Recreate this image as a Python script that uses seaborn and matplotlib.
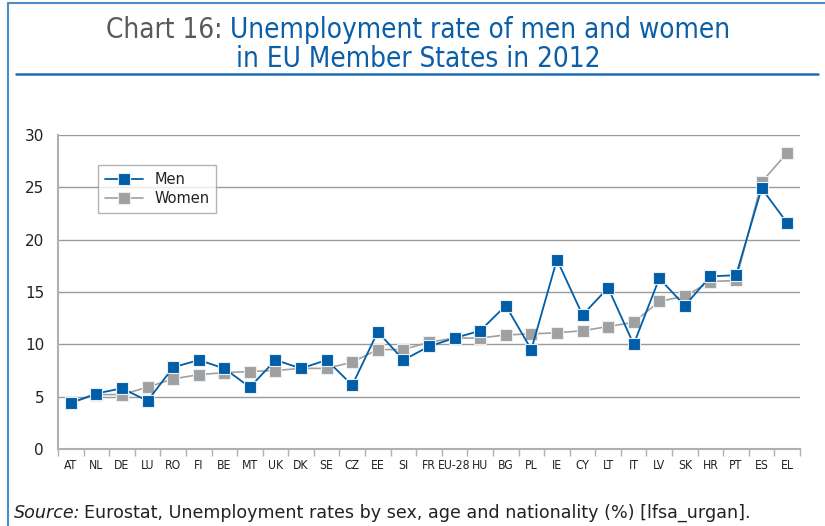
import matplotlib
matplotlib.use("Agg")
import matplotlib.pyplot as plt
from matplotlib.lines import Line2D
import seaborn as sns
import pandas as pd

countries = ["AT", "NL", "DE", "LU", "RO", "FI", "BE", "MT", "UK", "DK", "SE", "CZ", "EE", "SI",
             "FR", "EU-28", "HU", "BG", "PL", "IE", "CY", "LT", "IT", "LV", "SK", "HR", "PT", "ES", "EL"]
men = [4.4, 5.3, 5.8, 4.6, 7.8, 8.5, 7.7, 5.9, 8.5, 7.7, 8.5, 6.1, 11.2, 8.5,
       9.8, 10.6, 11.3, 13.7, 9.5, 18.1, 12.8, 15.4, 10.0, 16.3, 13.7, 16.5, 16.6, 24.9, 21.6]
women = [4.4, 5.2, 5.2, 5.9, 6.7, 7.1, 7.3, 7.4, 7.5, 7.7, 7.7, 8.3, 9.5, 9.5,
         10.2, 10.6, 10.6, 10.9, 11.0, 11.1, 11.3, 11.7, 12.1, 14.1, 14.6, 16.0, 16.1, 25.5, 28.3]
yticks = [0, 5, 10, 15, 20, 25, 30]

BLUE = "#005ea8"
GREY = "#a0a0a0"
TITLE_BLUE = "#0b5ea8"

sns.set_theme(style="white")
plt.rcParams['font.family'] = ['DejaVu Sans']

df_m = pd.DataFrame({"country": countries, "rate": men})
df_w = pd.DataFrame({"country": countries, "rate": women})

fig = plt.figure(figsize=(8.25, 5.26), dpi=100)
ax = fig.add_axes([58/825, 1-449/526, 742/825, 314/526])

MS = 8.3
kw = dict(marker="s", markersize=MS, markeredgecolor="#e8eef5", markeredgewidth=0.8)
sns.lineplot(data=df_w, x="country", y="rate", ax=ax, color=GREY, linewidth=1.2, sort=False, **kw)
sns.lineplot(data=df_m, x="country", y="rate", ax=ax, color=BLUE, linewidth=1.3, sort=False, **kw)

ax.set_xlim(-0.5, len(countries) - 0.5)
ax.set_ylim(0, 30)
ax.set_yticks(yticks)
ax.set_xlabel("")
ax.set_ylabel("")
ax.yaxis.grid(True, color="#9a9a9a", linewidth=1.0)
ax.set_axisbelow(True)
for s in ["top", "right"]:
    ax.spines[s].set_visible(False)
for s in ["left", "bottom"]:
    ax.spines[s].set_color("#b0b0b0")
    ax.spines[s].set_linewidth(1.5)

ax.set_xticks(range(len(countries)))
ax.set_xticklabels(countries, fontsize=8.7, fontstretch="condensed", color="#222222")
ax.set_xticks([i - 0.5 for i in range(len(countries) + 1)], minor=True)
ax.tick_params(axis="x", which="major", length=0, pad=7)
ax.tick_params(axis="x", which="minor", length=5, width=1, color="#b0b0b0", bottom=True)
ax.tick_params(axis="y", length=0, pad=10, labelsize=11, labelcolor="#222222")

handles = [Line2D([], [], color=BLUE, marker="s", markersize=MS, markeredgecolor="#e8eef5", markeredgewidth=0.8, linewidth=1.3),
           Line2D([], [], color=GREY, marker="s", markersize=MS, markeredgecolor="#e8eef5", markeredgewidth=0.8, linewidth=1.2)]
leg = ax.legend(handles, ["Men", "Women"], loc="upper left", bbox_to_anchor=(0.054, 0.904),
                borderaxespad=0, fancybox=False, frameon=True, fontsize=10.5, handlelength=2.6,
                labelspacing=0.3, borderpad=0.45, handletextpad=0.8)
leg.get_frame().set_edgecolor("#a0a0a0")
leg.get_frame().set_linewidth(1.0)
for t in leg.get_texts():
    t.set_color("#222222")

# frame lines
fig.add_artist(Line2D([8/825, 8/825], [0, 1-3/526], color="#4a8cc4", linewidth=1.5))
fig.add_artist(Line2D([8/825, 1], [1-3/526, 1-3/526], color="#4a8cc4", linewidth=1.5))
fig.add_artist(Line2D([16/825, 818/825], [1-74/526, 1-74/526], color="#1f6db5", linewidth=1.8))

# title
fig.canvas.draw()
r = fig.canvas.get_renderer()
tfs = 20
t1a = fig.text(0, 1-38/526, "Chart 16: ", fontsize=tfs, color="#5a5a5a", fontstretch="condensed", va="baseline")
t1b = fig.text(0, 1-38/526, "Unemployment rate of men and women", fontsize=tfs, color=TITLE_BLUE,
               fontstretch="condensed", va="baseline")
w1 = t1a.get_window_extent(r).width
w2 = t1b.get_window_extent(r).width
x0 = (418 - (w1 + w2) / 2) / 825
t1a.set_x(x0)
t1b.set_x(x0 + w1 / 825)
fig.text(418/825, 1-67/526, "in EU Member States in 2012", fontsize=tfs, color=TITLE_BLUE,
         fontstretch="condensed", va="baseline", ha="center")

# source
s1 = fig.text(14/825, 1-518/526, "Source:", fontsize=12.6, style="italic", color="#222222", va="baseline")
ws = s1.get_window_extent(r).width
fig.text(14/825 + (ws + 4) / 825, 1-518/526,
         "Eurostat, Unemployment rates by sex, age and nationality (%) [lfsa_urgan].",
         fontsize=12.6, color="#222222", va="baseline")

fig.savefig("out.png", dpi=100)
